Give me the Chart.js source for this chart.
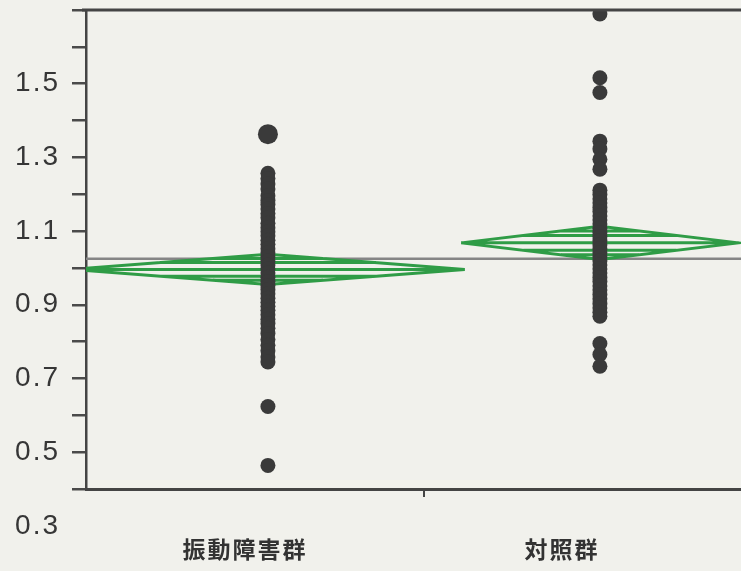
<!DOCTYPE html>
<html lang="ja">
<head>
    <meta charset="UTF-8">
    <title>振動障害群と対照群</title>
    <style>
        html, body {
            margin: 0;
            overflow: hidden;
            background: #f1f1ec;
        }
        #grafico {
            display: block;
        }
    </style>
</head>
<body>
    <canvas id="grafico" width="741" height="571"></canvas>

    <script src="https://cdn.jsdelivr.net/npm/chart.js"></script>

    <script>
        // grupos e valores
        const grupos = ["振動障害群", "対照群"];
        const grupoX = [1, 2];

        const valoresVibracao = [1.363, 1.257, 1.243, 1.228, 1.214, 1.196, 1.183, 1.172, 1.160, 1.148,
            1.136, 1.121, 1.109, 1.098, 1.087, 1.075, 1.064, 1.052, 1.041, 1.030, 1.019, 1.008,
            0.997, 0.986, 0.975, 0.963, 0.952, 0.941, 0.930, 0.918, 0.907, 0.896, 0.885, 0.873,
            0.861, 0.849, 0.836, 0.822, 0.806, 0.790, 0.775, 0.758, 0.745, 0.624, 0.464];
        const valoresControle = [1.689, 1.516, 1.476, 1.344, 1.323, 1.295, 1.268, 1.211, 1.199, 1.187,
            1.176, 1.164, 1.153, 1.141, 1.130, 1.119, 1.108, 1.096, 1.085, 1.074, 1.063, 1.052,
            1.041, 1.030, 1.019, 1.008, 0.997, 0.986, 0.974, 0.963, 0.951, 0.940, 0.928, 0.916,
            0.903, 0.891, 0.880, 0.869, 0.795, 0.765, 0.733];

        // losangos das médias (média, meia altura do IC, meia largura em unidades do eixo x)
        const medias = [0.996, 1.068];
        const meioIC = [0.041, 0.045];
        const meiaLargura = [0.593, 0.418];
        const mediaGeral = 1.025;

        const yTicks = [0.4, 0.5, 0.6, 0.7, 0.8, 0.9, 1.0, 1.1, 1.2, 1.3, 1.4, 1.5, 1.6, 1.7];
        const yRotulos = ["0.3", "0.5", "0.7", "0.9", "1.1", "1.3", "1.5"];
        const xTicks = [0.931, 1.47, 1.886];
        const xRotulos = ["振動障害群", "", "対照群"];

        const X_MIN = 0.452, X_MAX = 2.425;
        const VERDE = "#2f9c46";
        const CINZA_ESCURO = "#363636";
        const FONTE_Y = "28px 'Liberation Sans', Arial, sans-serif";

        function losango(i) {
            let c = grupoX[i], m = medias[i], h = meioIC[i], w = meiaLargura[i];
            let pts = [
                {x: c - w, y: m}, {x: c, y: m + h}, {x: c + w, y: m}, {x: c, y: m - h}, {x: c - w, y: m},
                {x: c, y: null},
                {x: c - w, y: m}, {x: c + w, y: m}
            ];
            // linhas internas e marcas de sobreposição
            [0.45, 0.72].forEach(r => {
                let ww = w * (1 - r);
                pts.push({x: c, y: null}, {x: c - ww, y: m + h * r}, {x: c + ww, y: m + h * r});
                pts.push({x: c, y: null}, {x: c - ww, y: m - h * r}, {x: c + ww, y: m - h * r});
            });
            return pts;
        }

        const molduraPlugin = {
            id: "moldura",
            beforeDraw(chart) {
                chart.ctx.letterSpacing = "2px";
            },
            afterDraw(chart) {
                let ctx = chart.ctx;
                let area = chart.chartArea;
                let y = chart.scales.y;
                ctx.save();
                ctx.strokeStyle = "#444";
                ctx.lineWidth = 3;
                ctx.beginPath();
                ctx.moveTo(area.left - 4, area.top);
                ctx.lineTo(area.right, area.top);
                ctx.stroke();
                // rótulo 0.3 fica abaixo do eixo
                ctx.font = FONTE_Y;
                ctx.fillStyle = CINZA_ESCURO;
                ctx.textAlign = "right";
                ctx.textBaseline = "middle";
                ctx.fillText(yRotulos[0], area.left - 14 - 12, y.getPixelForValue(0.3));
                ctx.restore();
            }
        };

        let ctx = document.getElementById("grafico").getContext("2d");
        let grafico = new Chart(ctx, {
            type: "scatter",
            data: {
                datasets: [
                    {
                        label: grupos[0],
                        data: valoresVibracao.map(v => ({x: grupoX[0], y: v})),
                        backgroundColor: "#3a3a3a",
                        borderWidth: 0,
                        pointRadius: valoresVibracao.map((v, i) => i === 0 ? 10 : 7.5)
                    },
                    {
                        label: grupos[1],
                        data: valoresControle.map(v => ({x: grupoX[1], y: v})),
                        backgroundColor: "#3a3a3a",
                        borderWidth: 0,
                        pointRadius: 7.5
                    },
                    {
                        label: "平均 " + grupos[0],
                        data: losango(0),
                        showLine: true,
                        borderColor: VERDE,
                        borderWidth: 3,
                        pointRadius: 0
                    },
                    {
                        label: "平均 " + grupos[1],
                        data: losango(1),
                        showLine: true,
                        borderColor: VERDE,
                        borderWidth: 3,
                        pointRadius: 0
                    },
                    {
                        label: "全体平均",
                        data: [{x: X_MIN, y: mediaGeral}, {x: X_MAX, y: mediaGeral}],
                        showLine: true,
                        borderColor: "#858585",
                        borderWidth: 2.5,
                        pointRadius: 0
                    }
                ]
            },
            options: {
                responsive: false,
                animation: false,
                layout: { autoPadding: false, padding: { top: 10, right: 0, left: 0, bottom: 0 } },
                plugins: {
                    legend: { display: false },
                    tooltip: { enabled: false }
                },
                scales: {
                    x: {
                        type: "linear",
                        min: X_MIN,
                        max: X_MAX,
                        afterBuildTicks: s => { s.ticks = xTicks.map(v => ({value: v})); },
                        afterFit: s => {
                            s.height = 82;
                            s.paddingLeft = 0;
                            s.paddingRight = 0;
                        },
                        border: { color: "#444", width: 3 },
                        grid: {
                            drawOnChartArea: false,
                            tickLength: 8,
                            lineWidth: 2,
                            tickColor: c => (c.tick && c.tick.label) ? "rgba(0,0,0,0)" : "#444"
                        },
                        ticks: {
                            padding: 38,
                            color: "#333",
                            maxRotation: 0,
                            autoSkip: false,
                            font: { family: "'Noto Sans CJK JP', sans-serif", size: 23, weight: "bold" },
                            callback: (v, i) => xRotulos[i]
                        }
                    },
                    y: {
                        min: 0.4,
                        max: 1.7,
                        afterBuildTicks: s => { s.ticks = yTicks.map(v => ({value: v})); },
                        afterFit: s => {
                            s.width = 86;
                            s.paddingTop = 0;
                            s.paddingBottom = 0;
                        },
                        border: { color: "#444", width: 2.5 },
                        grid: {
                            drawOnChartArea: false,
                            tickLength: 14,
                            lineWidth: 2.5,
                            tickColor: "#4a4a4a"
                        },
                        ticks: {
                            padding: 12,
                            color: CINZA_ESCURO,
                            font: { family: "'Liberation Sans', Arial, sans-serif", size: 28 },
                            callback: v => {
                                let s = v.toFixed(1);
                                return yRotulos.includes(s) ? s : "";
                            }
                        }
                    }
                }
            },
            plugins: [molduraPlugin]
        });
    </script>
</body>
</html>
